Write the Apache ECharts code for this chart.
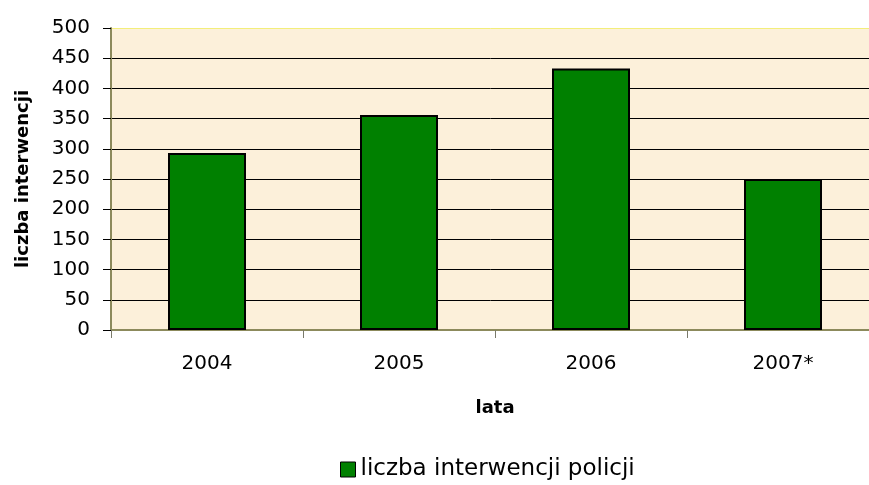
<!DOCTYPE html>
<html>
<head>
<meta charset="utf-8">
<script src="https://cdn.jsdelivr.net/npm/echarts@6/dist/echarts.min.js"></script>
<style>
  html, body { margin: 0; padding: 0; background: #ffffff; }
  #chart { width: 869px; height: 485px; }
</style>
</head>
<body>
<div id="chart"></div>
<script>
// dane
var years = ["2004", "2005", "2006", "2007*"];
var interventions = [293, 356, 433, 250];
var seriesName = "liczba interwencji policji";

var chart = echarts.init(document.getElementById("chart"));

// linie siatki: czarne, najwyzsza (500) zoltawa
var gridColors = [];
for (var i = 0; i < 11; i++) gridColors.push(i === 10 ? "#f3ee7a" : "#000000");

var option = {
  animation: false,
  textStyle: { fontFamily: "DejaVu Sans, sans-serif" },
  grid: {
    left: 111,
    top: 28,
    right: -10,
    bottom: 155,
    outerBoundsMode: "none",
    containLabel: false,
    show: true,
    backgroundColor: "#fcf0da",
    borderWidth: 0
  },
  legend: {
    data: [seriesName],
    top: 453,
    left: 335,
    icon: "rect",
    itemWidth: 15,
    itemHeight: 15,
    itemGap: 9,
    itemStyle: { borderColor: "#000000", borderWidth: 1 },
    textStyle: { fontSize: 23, color: "#000000" }
  },
  xAxis: {
    type: "category",
    data: years,
    name: "lata",
    nameLocation: "middle",
    nameGap: 69,
    nameTextStyle: { fontSize: 18, fontWeight: "bold", color: "#000000" },
    axisLine: { lineStyle: { color: "#8c8a5c", width: 2 } },
    axisTick: { show: true, length: 8, lineStyle: { color: "#7a7a6a" } },
    axisLabel: { fontSize: 20, color: "#000000", margin: 24 }
  },
  yAxis: {
    type: "value",
    min: 0,
    max: 500,
    interval: 50,
    name: "liczba interwencji",
    nameLocation: "middle",
    nameGap: 79,
    nameTextStyle: { fontSize: 18, fontWeight: "bold", color: "#000000" },
    axisLine: { show: true, lineStyle: { color: "#8c8a5c", width: 2 } },
    axisTick: { show: true, length: 8, lineStyle: { color: "#000000" } },
    axisLabel: { fontSize: 20, color: "#000000", margin: 21 },
    splitLine: { show: true, lineStyle: { color: gridColors, width: 1 } }
  },
  series: [
    {
      name: seriesName,
      type: "bar",
      data: interventions,
      barWidth: 78,
      itemStyle: { color: "#008000", borderColor: "#000000", borderWidth: 2 }
    }
  ]
};
chart.setOption(option);
</script>
</body>
</html>
